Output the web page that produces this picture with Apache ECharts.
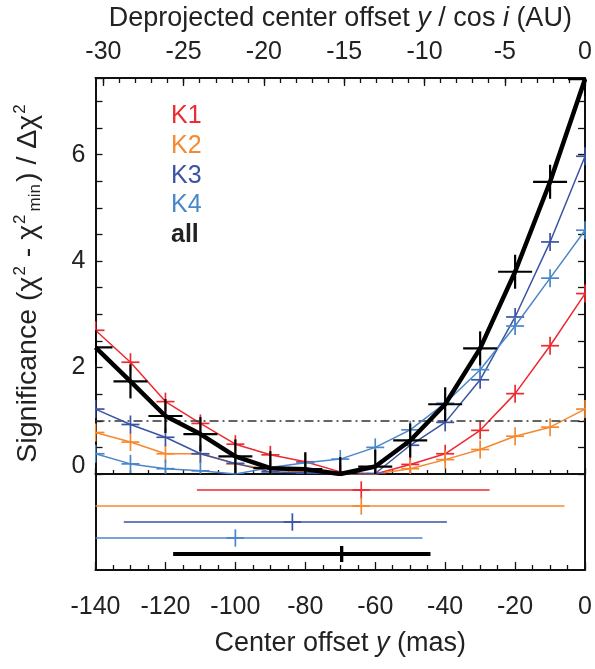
<!DOCTYPE html>
<html><head><meta charset="utf-8">
<script src="https://cdn.jsdelivr.net/npm/echarts@6/dist/echarts.min.js"></script>
<style>html,body{margin:0;padding:0;background:#fff}#c{width:595px;height:669px}</style>
</head><body><div id="c"></div>
<script>
// ---- data ----
const offsetsMas = [-140, -130, -120, -110, -100, -90, -80, -70, -60, -50, -40, -30, -20, -10, 0];
const sigK1  = [2.70, 2.10, 1.36, 0.95, 0.56, 0.36, 0.23, 0.04, 0.00, 0.18, 0.38, 0.82, 1.51, 2.41, 3.39];
const sigK2  = [0.78, 0.60, 0.38, 0.38, 0.19, 0.09, 0.03, 0.00, 0.00, 0.10, 0.27, 0.46, 0.71, 0.88, 1.22];
const sigK3  = [1.22, 0.93, 0.69, 0.38, 0.20, 0.04, 0.02, 0.00, 0.01, 0.54, 0.97, 1.77, 2.95, 4.36, 5.97];
const sigK4  = [0.38, 0.19, 0.10, 0.06, 0.00, 0.12, 0.21, 0.28, 0.50, 0.83, 1.33, 1.96, 2.78, 3.68, 4.58];
const sigAll = [2.38, 1.74, 1.09, 0.75, 0.33, 0.11, 0.09, 0.00, 0.14, 0.63, 1.31, 2.36, 3.80, 5.49, 7.42];
const bandNames  = ['K1', 'K2', 'K3', 'K4', 'all'];
const bandColors = ['#ec2a30', '#f6892f', '#3b53a3', '#4a86c8', '#000000'];
const bestFit = [-64.0, -64.0, -83.7, -100.0, -69.6];
const rangeLo = [-111.0, -140.0, -131.9, -140.0, -117.8];
const rangeHi = [-27.3, -5.9, -39.5, -46.5, -44.2];
const rowIdx  = [1, 2, 3, 4, 5];
const thresholdLevel = 1;
const auPerMas = 30.49 / 140;
const auMajorTicks = [-30, -25, -20, -15, -10, -5, 0];
const auMinorTicks = [-30, -29, -28, -27, -26, -25, -24, -23, -22, -21, -20, -19, -18, -17, -16, -15,
                      -14, -13, -12, -11, -10, -9, -8, -7, -6, -5, -4, -3, -2, -1, 0];
const yLabelValues = [0, 2, 4, 6];

// ---- chart ----
const FONT = "'Liberation Sans', Helvetica, Arial, sans-serif";
const TXT = '#222';
const sigSeries = [sigK1, sigK2, sigK3, sigK4, sigAll];
const auMin = -140 * auPerMas;
const axLine = { show: true, onZero: false, lineStyle: { color: '#111', width: 2 } };
const tickStyle = { color: '#111', width: 1.3 };

function crossSeries(name, data, color, half, lw, xi, yi, z) {
  return {
    type: 'custom', name: name, xAxisIndex: xi, yAxisIndex: yi, clip: true, z: z,
    data: data, encode: { x: 0, y: 1 }, silent: true,
    renderItem: function (params, api) {
      const p = api.coord([api.value(0), api.value(1)]);
      return { type: 'group', children: [
        { type: 'line', shape: { x1: p[0] - half, y1: p[1], x2: p[0] + half, y2: p[1] }, style: { stroke: color, lineWidth: lw } },
        { type: 'line', shape: { x1: p[0], y1: p[1] - half, x2: p[0], y2: p[1] + half }, style: { stroke: color, lineWidth: lw } }
      ]};
    }
  };
}

const series = [];
bandNames.forEach(function (nm, i) {
  const isAll = nm === 'all';
  const pts = offsetsMas.map(function (x, k) { return [x, sigSeries[i][k]]; });
  const ln = {
    type: 'line', name: nm, xAxisIndex: 0, yAxisIndex: 0, data: pts,
    symbol: 'none', clip: true, z: 3 + i,
    lineStyle: { color: bandColors[i], width: isAll ? 4.5 : 1.5 },
    itemStyle: { color: bandColors[i] }
  };
  if (isAll) {
    ln.markLine = {
      silent: true, symbol: 'none', label: { show: false },
      lineStyle: { color: '#333', width: 1.5, type: [9, 4, 2, 4] },
      data: [{ yAxis: thresholdLevel }]
    };
  }
  series.push(ln);
  series.push(crossSeries(nm + ' pts', pts, bandColors[i], isAll ? 17 : 9, isAll ? 2.2 : 1.7, 0, 0, 3 + i));
});

// lower panel: best-fit offsets with ranges
const lowerData = bandNames.map(function (nm, i) { return [bestFit[i], rowIdx[i], rangeLo[i], rangeHi[i], i]; });
series.push({
  type: 'custom', name: 'best fit', xAxisIndex: 3, yAxisIndex: 2, clip: true, silent: true,
  data: lowerData, encode: { x: 0, y: 1 },
  renderItem: function (params, api) {
    const i = api.value(4);
    const isAll = i === 4;
    const c = bandColors[i];
    const p = api.coord([api.value(0), api.value(1)]);
    const a = api.coord([api.value(2), api.value(1)]);
    const b = api.coord([api.value(3), api.value(1)]);
    const half = isAll ? 8 : 8.7;
    const lw = isAll ? 3.3 : 1.7;
    return { type: 'group', children: [
      { type: 'line', shape: { x1: a[0], y1: a[1], x2: b[0], y2: b[1] }, style: { stroke: c, lineWidth: isAll ? 4 : 1.7 } },
      { type: 'line', shape: { x1: p[0] - half, y1: p[1], x2: p[0] + half, y2: p[1] }, style: { stroke: c, lineWidth: lw } },
      { type: 'line', shape: { x1: p[0], y1: p[1] - half, x2: p[0], y2: p[1] + half }, style: { stroke: c, lineWidth: lw } }
    ]};
  }
});

const labelStyle = { color: TXT, fontFamily: FONT, fontSize: 25 };
const nameStyleBase = { color: TXT, fontFamily: FONT, fontSize: 27 };

const option = {
  animation: false,
  backgroundColor: '#fff',
  textStyle: { fontFamily: FONT },
  grid: [
    { left: 95.5, top: 74, width: 491, height: 400 },
    { left: 95.5, top: 474, width: 491, height: 96 }
  ],
  legend: {
    orient: 'vertical', left: 161, top: 99, itemGap: 4.7, itemWidth: 0, itemHeight: 0,
    selectedMode: false, icon: 'rect',
    itemStyle: { color: 'rgba(0,0,0,0)', borderWidth: 0 },
    lineStyle: { width: 0, opacity: 0 },
    textStyle: { fontFamily: FONT, fontSize: 25, lineHeight: 25 },
    data: bandNames.map(function (nm, i) {
      return { name: nm, textStyle: { color: bandColors[i] === '#000000' ? '#222' : bandColors[i], fontWeight: nm === 'all' ? 'bold' : 'normal' } };
    })
  },
  xAxis: [
    { gridIndex: 0, type: 'value', min: -140, max: 0, interval: 20, position: 'bottom',
      axisLine: axLine, axisTick: { inside: true, length: 6, lineStyle: tickStyle },
      minorTick: { show: true, splitNumber: 4, length: 4, lineStyle: tickStyle },
      axisLabel: { show: false }, splitLine: { show: false } },
    { gridIndex: 0, type: 'value', min: auMin, max: 0, position: 'top',
      axisLine: axLine,
      axisTick: { inside: true, length: 8, lineStyle: tickStyle, customValues: auMajorTicks },
      axisLabel: Object.assign({ margin: 13, customValues: auMajorTicks, formatter: function (v) { return String(Math.round(v)); } }, labelStyle),
      splitLine: { show: false },
      name: '{a|Deprojected center offset }{i|y}{a| / cos }{i|i}{a| (AU)}',
      nameLocation: 'middle', nameGap: 46,
      nameTextStyle: Object.assign({}, nameStyleBase, { rich: {
        a: { fontFamily: FONT, fontSize: 27, color: TXT },
        i: { fontFamily: FONT, fontSize: 27, color: TXT, fontStyle: 'italic' } } }) },
    { gridIndex: 0, type: 'value', min: auMin, max: 0, position: 'top',
      axisLine: { show: false, onZero: false },
      axisTick: { inside: true, length: 5, lineStyle: tickStyle, customValues: auMinorTicks },
      axisLabel: { show: false }, splitLine: { show: false } },
    { gridIndex: 1, type: 'value', min: -140, max: 0, interval: 20, position: 'bottom',
      axisLine: axLine, axisTick: { inside: true, length: 8, lineStyle: tickStyle },
      minorTick: { show: true, splitNumber: 4, length: 5, lineStyle: tickStyle },
      axisLabel: Object.assign({ margin: 25 }, labelStyle), splitLine: { show: false },
      name: '{a|Center offset }{i|y}{a| (mas)}', nameLocation: 'middle', nameGap: 60,
      nameTextStyle: Object.assign({}, nameStyleBase, { rich: {
        a: { fontFamily: FONT, fontSize: 27, color: TXT },
        i: { fontFamily: FONT, fontSize: 27, color: TXT, fontStyle: 'italic' } } }) }
  ],
  yAxis: [
    { gridIndex: 0, type: 'value', min: 0, max: 7.44, interval: 0.5, position: 'left',
      axisLine: axLine, axisTick: { inside: true, length: 7, lineStyle: tickStyle },
      axisLabel: Object.assign({ margin: 10,
        formatter: function (v) {
          if (yLabelValues.indexOf(v) < 0) return '';
          return v === 0 ? '{z|0}' : String(v);
        },
        rich: { z: { fontFamily: FONT, fontSize: 25, color: TXT, padding: [0, 0, 16, 0] } } }, labelStyle),
      splitLine: { show: false },
      name: '{a|Significance (χ}{sup|2}{a| - χ}{sup|2}{sub|min}{a|) / Δχ}{sup|2}',
      nameLocation: 'middle', nameGap: 51,
      nameTextStyle: Object.assign({}, nameStyleBase, { padding: [0, 14, 0, 0], rich: {
        a: { fontFamily: FONT, fontSize: 28.5, color: TXT },
        sup: { fontFamily: FONT, fontSize: 17, color: TXT, padding: [0, 1, 16, 1] },
        sub: { fontFamily: FONT, fontSize: 17, color: TXT, padding: [14, 2, 0, 2] } } }) },
    { gridIndex: 0, type: 'value', min: 0, max: 7.44, interval: 0.5, position: 'right',
      axisLine: axLine, axisTick: { inside: true, length: 7, lineStyle: tickStyle },
      axisLabel: { show: false }, splitLine: { show: false } },
    { gridIndex: 1, type: 'value', min: 0, max: 6, inverse: true, position: 'left',
      axisLine: axLine, axisTick: { show: false }, axisLabel: { show: false }, splitLine: { show: false } },
    { gridIndex: 1, type: 'value', min: 0, max: 6, inverse: true, position: 'right',
      axisLine: axLine, axisTick: { show: false }, axisLabel: { show: false }, splitLine: { show: false } }
  ],
  series: series
};

const chart = echarts.init(document.getElementById('c'), null, { renderer: 'canvas' });
chart.setOption(option);
</script>
</body></html>
